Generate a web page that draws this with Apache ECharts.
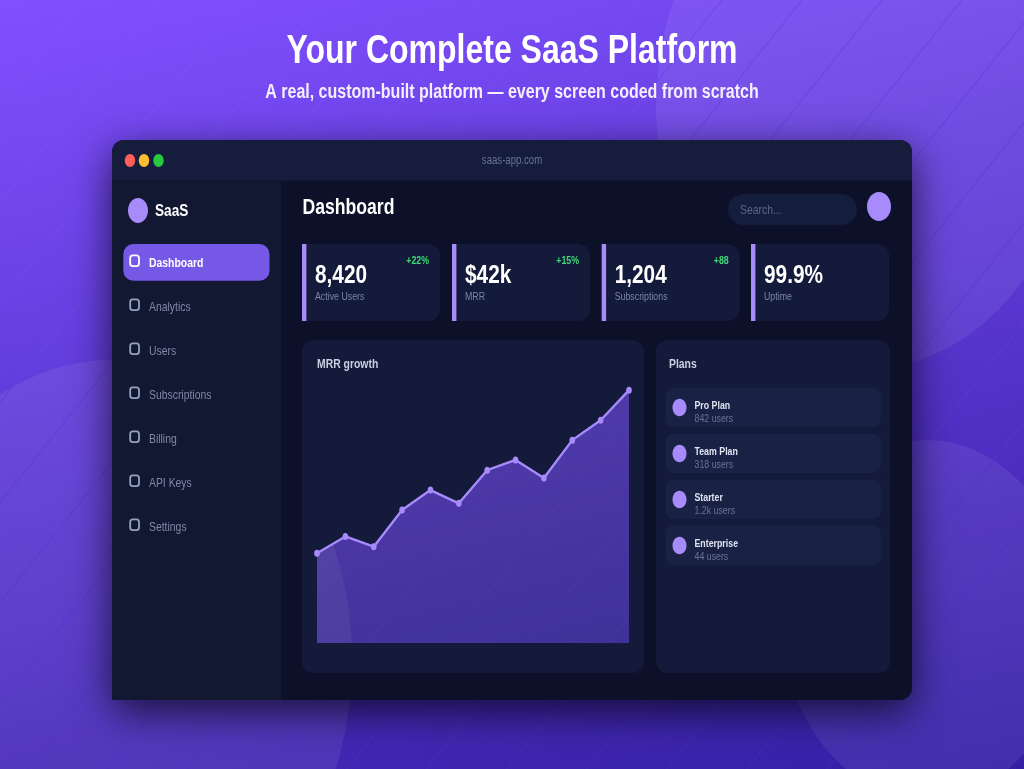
<!DOCTYPE html>
<html>
<head>
<meta charset="utf-8">
<title>SaaS Platform</title>
<script src="https://cdn.jsdelivr.net/npm/echarts@6/dist/echarts.min.js"></script>
<style>
html, body { margin: 0; padding: 0; overflow: hidden; background: #3a22a8; }
#chart { width: 1024px; height: 769px; }
</style>
</head>
<body>
<div id="chart"></div>
<script>
'use strict';

// MRR in $k
var months = ['Jan', 'Feb', 'Mar', 'Apr', 'May', 'Jun', 'Jul', 'Aug', 'Sep', 'Oct', 'Nov', 'Dec'];
var mrr = [14.9, 17.7, 16, 22.1, 25.4, 23.2, 28.7, 30.4, 27.4, 33.7, 37, 42];

var navItems = ['Dashboard', 'Analytics', 'Users', 'Subscriptions', 'Billing', 'API Keys', 'Settings'];
var kpiValues = ['8,420', '$42k', '1,204', '99.9%'];
var kpiLabels = ['Active Users', 'MRR', 'Subscriptions', 'Uptime'];
var kpiDeltas = ['+22%', '+15%', '+88', ''];
var planNames = ['Pro Plan', 'Team Plan', 'Starter', 'Enterprise'];
var planUsers = ['842 users', '318 users', '1.2k users', '44 users'];

var kpiLeft = [302, 452, 601.7, 751];
var FONT = '"Liberation Sans", Arial, sans-serif';
var ACCENT = '#a78bfa';

// gradient, circles and stripes behind the window
function paintBackdrop(ctx) {
  var g = ctx.createLinearGradient(0, 0, 217.5, 954);
  g.addColorStop(0, '#8150ff');
  g.addColorStop(1, '#341fa5');
  ctx.fillStyle = g;
  ctx.fillRect(0, 0, 1024, 769);

  function stripes(color) {
    ctx.strokeStyle = color;
    ctx.lineWidth = 1.2;
    for (var c = 2; c < 1700; c += 80) {
      ctx.beginPath();
      ctx.moveTo(c, 0);
      ctx.lineTo(c - 0.8 * 769, 769);
      ctx.stroke();
    }
  }
  function circles() {
    ctx.beginPath();
    ctx.ellipse(866, 106, 210, 262.5, 0, 0, Math.PI * 2);
    ctx.closePath();
    ctx.moveTo(352, 660);
    ctx.ellipse(112, 660, 240, 300, 0, 0, Math.PI * 2);
    ctx.closePath();
    ctx.moveTo(1072, 620);
    ctx.ellipse(927, 620, 145, 180, 0, 0, Math.PI * 2);
    ctx.closePath();
  }

  stripes('rgba(255,255,255,0.035)');
  circles();
  ctx.fillStyle = 'rgba(255,255,255,0.07)';
  ctx.fill();
  ctx.save();
  circles();
  ctx.clip();
  stripes('rgba(60,30,200,0.24)');
  ctx.restore();
}

var backdrop = document.createElement('canvas');
backdrop.width = 1024;
backdrop.height = 769;
paintBackdrop(backdrop.getContext('2d'));

// the area lets the backdrop through, a bit dimmed
var areaFill = document.createElement('canvas');
areaFill.width = 1024;
areaFill.height = 769;
var areaCtx = areaFill.getContext('2d');
areaCtx.drawImage(backdrop, 0, 0);
areaCtx.fillStyle = 'rgba(50,70,60,0.25)';
areaCtx.fillRect(0, 0, 1024, 769);

// the shot is squeezed to 80% wide, so text is too
function label(text, x, y, size, color, weight, align) {
  return {
    type: 'text',
    x: x,
    y: y + 1,
    scaleX: 0.8,
    silent: true,
    style: {
      text: text,
      fill: color,
      font: (weight || 'normal') + ' ' + size + 'px ' + FONT,
      align: align || 'left',
      verticalAlign: 'middle'
    }
  };
}

function box(x, y, w, h, r, color) {
  return {
    type: 'rect',
    silent: true,
    shape: { x: x, y: y, width: w, height: h, r: r },
    style: { fill: color }
  };
}

function oval(cx, cy, a, b, color) {
  return {
    type: 'ellipse',
    silent: true,
    shape: { cx: cx, cy: cy, rx: a, ry: b },
    style: { fill: color }
  };
}

function buildGraphic() {
  var els = [];

  els.push(label('Your Complete SaaS Platform', 512, 50.5, 40, '#ffffff', 'bold', 'center'));
  els.push(label('A real, custom-built platform \u2014 every screen coded from scratch', 512, 91.5, 20, '#f3efff', 'bold', 'center'));

  // window
  var win = box(112, 140, 800, 560, 12, '#0c1029');
  win.style.shadowBlur = 42;
  win.style.shadowOffsetY = 12;
  win.style.shadowColor = 'rgba(0,0,0,0.7)';
  els.push(win);
  els.push(box(112, 140, 800, 40.5, [12, 12, 0, 0], '#151c3c'));
  els.push(box(112, 180.5, 169, 519.5, 0, '#121732'));
  els.push(oval(130, 160.5, 5.2, 6.5, '#ff5f57'));
  els.push(oval(144, 160.5, 5.2, 6.5, '#febc2e'));
  els.push(oval(158.5, 160.5, 5.2, 6.5, '#28c840'));
  els.push(label('saas-app.com', 512, 160, 12, '#6b7394', 'normal', 'center'));

  // sidebar
  els.push(oval(138, 210.5, 10, 12.5, ACCENT));
  els.push(label('SaaS', 155, 210, 17, '#ffffff', 'bold'));
  els.push(box(123.3, 244, 146.2, 36.8, 10, '#7558e6'));
  navItems.forEach(function (name, i) {
    var active = i === 0;
    els.push({
      type: 'rect',
      silent: true,
      shape: { x: 130.2, y: 255.3 + i * 44, width: 8.8, height: 10.8, r: 2.6 },
      style: { fill: 'none', stroke: active ? '#ffffff' : '#94a3c0', lineWidth: 1.8 }
    });
    els.push(label(name, 149, 262 + i * 44, 13, active ? '#ffffff' : '#7f89a8', active ? 'bold' : 'normal'));
  });

  // header
  els.push(label('Dashboard', 302.5, 206.5, 22, '#ffffff', 'bold'));
  els.push(box(728, 194, 129, 31, 15.5, '#151d3d'));
  els.push(label('Search...', 740, 209, 13, '#5c6586'));
  els.push(oval(879, 206.5, 12, 14.5, ACCENT));

  // stat cards
  kpiValues.forEach(function (value, i) {
    var x = kpiLeft[i];
    els.push(box(x, 244, 138, 77, [0, 12, 12, 0], '#141b3a'));
    els.push(box(x, 244, 4.4, 77, 0, ACCENT));
    els.push(label(value, x + 13, 275, 26, '#ffffff', 'bold'));
    els.push(label(kpiLabels[i], x + 13, 296, 11, '#7a84a6'));
    if (kpiDeltas[i]) {
      els.push(label(kpiDeltas[i], x + 127, 260, 11, '#3fd878', 'bold', 'right'));
    }
  });

  // chart card
  els.push(box(302, 340, 342, 333, 12, '#141b3a'));
  els.push(label('MRR growth', 317, 363, 13, '#c9d0e2', 'bold'));

  // plans card
  els.push(box(656, 340, 234, 333, 12, '#141b3a'));
  els.push(label('Plans', 669, 363, 13, '#c9d0e2', 'bold'));
  planNames.forEach(function (name, i) {
    var dy = i * 46;
    els.push(box(665.7, 387.7 + dy, 215, 39.3, 8, '#192245'));
    els.push(oval(679.5, 407.5 + dy, 7, 8.8, ACCENT));
    els.push(label(name, 694.5, 405 + dy, 11, '#dfe3f0', 'bold'));
    els.push(label(planUsers[i], 694.5, 418 + dy, 11, '#6a7394'));
  });

  return els;
}

var chart = echarts.init(document.getElementById('chart'), null, { renderer: 'canvas' });
chart.setOption({
  animation: false,
  backgroundColor: { image: backdrop, repeat: 'no-repeat' },
  graphic: { elements: buildGraphic() },
  tooltip: { show: false },
  legend: { show: false },
  grid: { left: 317, width: 312, top: 342, height: 301, containLabel: false },
  xAxis: {
    type: 'category',
    data: months,
    boundaryGap: false,
    show: false
  },
  yAxis: {
    type: 'value',
    min: 0,
    max: 50,
    show: false,
    splitLine: { show: false }
  },
  series: [{
    name: 'MRR growth',
    type: 'line',
    data: mrr,
    smooth: false,
    showAllSymbol: true,
    symbol: 'circle',
    symbolSize: [5.6, 7],
    clip: false,
    itemStyle: { color: ACCENT },
    lineStyle: { color: ACCENT, width: 2.4 },
    areaStyle: { opacity: 1, color: { image: areaFill, repeat: 'no-repeat' } }
  }]
});
</script>
</body>
</html>
